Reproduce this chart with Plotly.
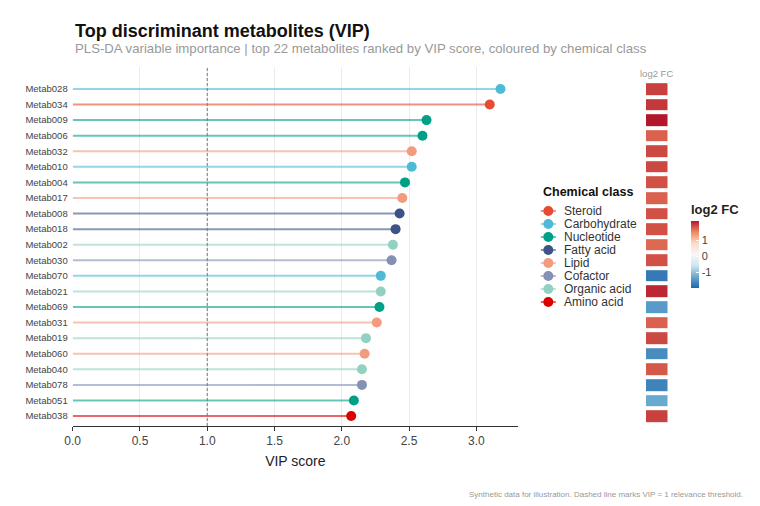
import plotly.graph_objects as go

# ---- data ----
metabs = ["Metab028", "Metab034", "Metab009", "Metab006", "Metab032", "Metab010",
          "Metab004", "Metab017", "Metab008", "Metab018", "Metab002", "Metab030",
          "Metab070", "Metab021", "Metab069", "Metab031", "Metab019", "Metab060",
          "Metab040", "Metab078", "Metab051", "Metab038"]
vip = [3.18, 3.10, 2.63, 2.60, 2.52, 2.52, 2.47, 2.45, 2.43, 2.40, 2.38, 2.37,
       2.29, 2.29, 2.28, 2.26, 2.18, 2.17, 2.15, 2.15, 2.09, 2.07]
chem = ["Carbohydrate", "Steroid", "Nucleotide", "Nucleotide", "Lipid", "Carbohydrate",
        "Nucleotide", "Lipid", "Fatty acid", "Fatty acid", "Organic acid", "Cofactor",
        "Carbohydrate", "Organic acid", "Nucleotide", "Lipid", "Organic acid", "Lipid",
        "Organic acid", "Cofactor", "Nucleotide", "Amino acid"]
log2fc = [1.95, 2.0, 2.2, 1.75, 1.9, 1.9, 1.85, 1.75, 1.85, 1.85, 1.7, 1.85,
          -1.8, 2.1, -1.45, 1.75, 1.9, -1.6, 1.8, -1.7, -1.3, 1.95]

classes = ["Steroid", "Carbohydrate", "Nucleotide", "Fatty acid",
           "Lipid", "Cofactor", "Organic acid", "Amino acid"]
class_colors = ["#E64B35", "#4DBBD5", "#00A087", "#3C5488",
                "#F39B7F", "#8491B4", "#91D1C2", "#DC0000"]

FONT = "Liberation Sans, Arial, sans-serif"
W, H = 760, 506
OFF = 8  # page body margin, positions below are measured on the screenshot


def px_x(p):
    return (p - OFF) / W


def px_y(p):
    return (H - (p - OFF)) / H


fig = go.Figure()

# lollipop sticks + heads, one pair of traces per class
for cls, col in zip(classes, class_colors):
    xs, ys, hx, hy = [], [], [], []
    for m, v, c in zip(metabs, vip, chem):
        if c == cls:
            xs += [0, v, None]
            ys += [m, m, None]
            hx.append(v)
            hy.append(m)
    fig.add_trace(go.Scatter(x=xs, y=ys, mode="lines", line=dict(color=col, width=2),
                             opacity=0.6, hoverinfo="skip", showlegend=False))
    fig.add_trace(go.Scatter(x=hx, y=hy, mode="markers", name=cls,
                             marker=dict(color=col, size=10), showlegend=False))

# log2 FC tile column
fig.add_trace(go.Heatmap(
    z=[[v] for v in log2fc], x=["log2 FC"], y=metabs, xaxis="x2", yaxis="y",
    ygap=4, zmin=-2.0, zmax=2.2,
    colorscale=[[0, "#2166AC"], [1 / 6, "#67A9CF"], [2 / 6, "#D1E5F0"], [0.5, "#F7F7F7"],
                [4 / 6, "#FDDBC7"], [5 / 6, "#EF8A62"], [1, "#B2182B"]],
    colorbar=dict(title=dict(text="<b>log2 FC</b>", side="top",
                             font=dict(size=13, color="#222", family=FONT)),
                  x=px_x(691), xanchor="left", y=px_y(245), yanchor="middle",
                  thickness=8, len=87, lenmode="pixels", xpad=0, ypad=0,
                  outlinewidth=0, tickvals=[-1, 0, 1], ticktext=["-1", "0", "1"],
                  ticks="inside", ticklen=3, tickcolor="white",
                  tickfont=dict(size=11, color="#444", family=FONT)),
))

# legend drawn by hand so the rows can sit as tight as the reference
for i, (cls, col) in enumerate(zip(classes, class_colors)):
    fig.add_trace(go.Scatter(x=[-0.75, 0.75], y=[i, i], mode="lines", xaxis="x3", yaxis="y3",
                             line=dict(color=col, width=2), opacity=0.6,
                             hoverinfo="skip", showlegend=False))
fig.add_trace(go.Scatter(x=[0] * len(classes), y=list(range(len(classes))), mode="markers",
                         xaxis="x3", yaxis="y3", marker=dict(color=class_colors, size=10),
                         hoverinfo="skip", showlegend=False))

annotations = [
    dict(text="<b>Top discriminant metabolites (VIP)</b>", x=px_x(73), y=px_y(31.5),
         xref="paper", yref="paper", xanchor="left", yanchor="middle", showarrow=False,
         font=dict(size=18, color="#111", family=FONT)),
    dict(text="PLS-DA variable importance | top 22 metabolites ranked by VIP score, coloured by chemical class",
         x=px_x(73), y=px_y(49), xref="paper", yref="paper", xanchor="left", yanchor="middle",
         showarrow=False, font=dict(size=13.2, color="#999", family=FONT)),
    dict(text="Synthetic data for illustration. Dashed line marks VIP = 1 relevance threshold.",
         x=px_x(745), y=px_y(494), xref="paper", yref="paper", xanchor="right",
         yanchor="middle", showarrow=False, font=dict(size=8, color="#999", family=FONT)),
    dict(text="log2 FC", x=px_x(656.5), y=px_y(73), xref="paper", yref="paper",
         xanchor="center", yanchor="middle", showarrow=False,
         font=dict(size=9.5, color="#999", family=FONT)),
    dict(text="<b>Chemical class</b>", x=px_x(541), y=px_y(191.5), xref="paper", yref="paper",
         xanchor="left", yanchor="middle", showarrow=False,
         font=dict(size=12.5, color="#111", family=FONT)),
]
for i, cls in enumerate(classes):
    annotations.append(dict(text=cls, x=0, y=i, xref="x3", yref="y3", xshift=14,
                            xanchor="left", yanchor="middle", showarrow=False,
                            font=dict(size=12, color="#333", family=FONT)))

n = len(metabs)
fig.update_layout(
    width=W, height=H, margin=dict(l=0, r=0, t=0, b=0),
    paper_bgcolor="white", plot_bgcolor="white",
    font=dict(family=FONT, color="#333"),
    showlegend=False,
    xaxis=dict(domain=[px_x(72.7), px_x(518)], range=[0, 3.31], dtick=0.5, tick0=0,
               tickformat=".1f", showgrid=True, gridcolor="#EBEBEB", gridwidth=1,
               zeroline=False, showline=True, linecolor="#333", linewidth=1,
               ticks="outside", ticklen=4, tickcolor="#333",
               tickfont=dict(size=12, color="#444"),
               title=dict(text="VIP score", font=dict(size=14, color="#222"), standoff=8),
               automargin=False),
    yaxis=dict(domain=[px_y(426), px_y(67)], type="category", categoryorder="array",
               categoryarray=metabs, range=[n - 1 + 0.64, -1.41], showgrid=False,
               zeroline=False, showline=False, ticks="", ticklabelstandoff=4,
               tickfont=dict(size=9.5, color="#444"), automargin=False),
    xaxis2=dict(domain=[px_x(646), px_x(667.5)], anchor="y", visible=False),
    xaxis3=dict(domain=[px_x(538.3), px_x(558.3)], range=[-1, 1], anchor="y3", visible=False),
    yaxis3=dict(domain=[px_y(308.5), px_y(204.5)], range=[len(classes) - 0.5, -0.5],
                anchor="x3", visible=False),
    shapes=[dict(type="line", xref="x", yref="y domain", x0=1, x1=1, y0=0, y1=1,
                 line=dict(color="#777", width=1, dash="3px,2px"), layer="above")],
    annotations=annotations,
)

fig.write_html("out.html")
